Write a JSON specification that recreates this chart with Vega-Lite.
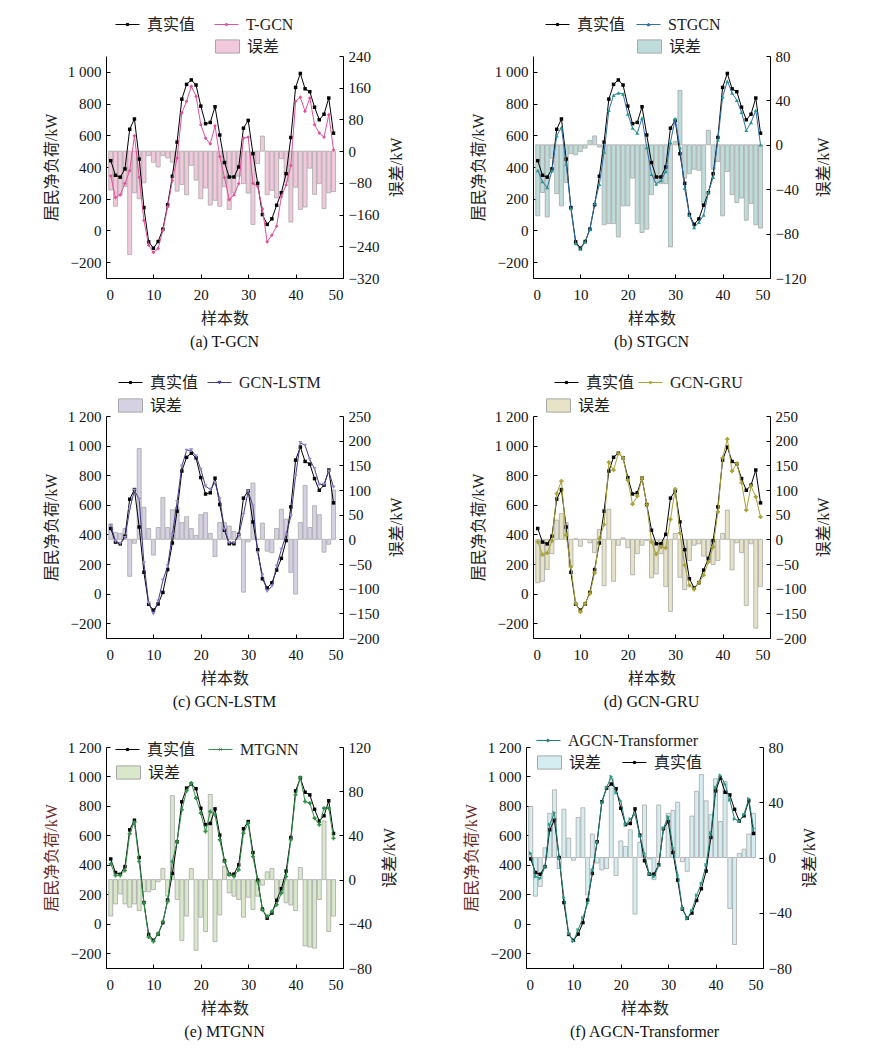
{
  "$schema": "https://vega.github.io/schema/vega-lite/v6.json",
  "background": "white",
  "padding": {"left": 43, "top": 12, "right": 5, "bottom": 5},
  "datasets": {
    "a": [
      {"x":1,"t":440,"p":344,"e":-98},{"x":2,"t":348,"p":207,"e":-139},{"x":3,"t":336,"p":224,"e":-110},{"x":4,"t":388,"p":297,"e":-89},{"x":5,"t":638,"p":376,"e":-261},{"x":6,"t":703,"p":597,"e":-105},{"x":7,"t":450,"p":335,"e":-120},{"x":8,"t":144,"p":63,"e":-80},{"x":9,"t":-72,"p":-93,"e":-11},{"x":10,"t":-112,"p":-139,"e":-28},
      {"x":11,"t":-70,"p":-114,"e":-40},{"x":12,"t":8,"p":0,"e":-11},{"x":13,"t":162,"p":148,"e":-17},{"x":14,"t":342,"p":314,"e":-28},{"x":15,"t":557,"p":456,"e":-101},{"x":16,"t":828,"p":741,"e":-84},{"x":17,"t":921,"p":814,"e":-110},{"x":18,"t":949,"p":909,"e":-36},{"x":19,"t":917,"p":846,"e":-73},{"x":20,"t":784,"p":667,"e":-120},
      {"x":21,"t":673,"p":582,"e":-93},{"x":22,"t":681,"p":546,"e":-136},{"x":23,"t":780,"p":660,"e":-124},{"x":24,"t":602,"p":466,"e":-139},{"x":25,"t":428,"p":333,"e":-90},{"x":26,"t":337,"p":194,"e":-147},{"x":27,"t":337,"p":224,"e":-105},{"x":28,"t":400,"p":295,"e":-63},{"x":29,"t":645,"p":582,"e":-82},{"x":30,"t":694,"p":589,"e":-106},
      {"x":31,"t":484,"p":297,"e":-185},{"x":32,"t":297,"p":278,"e":-31},{"x":33,"t":100,"p":135,"e":38},{"x":34,"t":38,"p":-72,"e":-110},{"x":35,"t":73,"p":-30,"e":-99},{"x":36,"t":159,"p":27,"e":-118},{"x":37,"t":238,"p":213,"e":-19},{"x":38,"t":358,"p":287,"e":-78},{"x":39,"t":586,"p":409,"e":-179},{"x":40,"t":902,"p":814,"e":-91},
      {"x":41,"t":990,"p":840,"e":-147},{"x":42,"t":893,"p":751,"e":-141},{"x":43,"t":875,"p":835,"e":-43},{"x":44,"t":777,"p":667,"e":-109},{"x":45,"t":698,"p":614,"e":-82},{"x":46,"t":733,"p":589,"e":-145},{"x":47,"t":835,"p":730,"e":-105},{"x":48,"t":613,"p":508,"e":-102}
    ],
    "b": [
      {"x":1,"t":440,"p":378,"e":-64},{"x":2,"t":348,"p":308,"e":-43},{"x":3,"t":336,"p":270,"e":-65},{"x":4,"t":388,"p":376,"e":-12},{"x":5,"t":638,"p":597,"e":-44},{"x":6,"t":703,"p":650,"e":-55},{"x":7,"t":450,"p":418,"e":-34},{"x":8,"t":144,"p":139,"e":-8},{"x":9,"t":-72,"p":-82,"e":-9},{"x":10,"t":-112,"p":-118,"e":-6},
      {"x":11,"t":-70,"p":-72,"e":-3},{"x":12,"t":8,"p":6,"e":4},{"x":13,"t":162,"p":169,"e":8},{"x":14,"t":342,"p":291,"e":-2},{"x":15,"t":557,"p":494,"e":-72},{"x":16,"t":828,"p":757,"e":-71},{"x":17,"t":921,"p":852,"e":-71},{"x":18,"t":949,"p":867,"e":-83},{"x":19,"t":917,"p":861,"e":-55},{"x":20,"t":784,"p":734,"e":-55},
      {"x":21,"t":673,"p":646,"e":-30},{"x":22,"t":681,"p":614,"e":-71},{"x":23,"t":780,"p":709,"e":-79},{"x":24,"t":602,"p":523,"e":-76},{"x":25,"t":428,"p":354,"e":-45},{"x":26,"t":337,"p":293,"e":-34},{"x":27,"t":337,"p":314,"e":-35},{"x":28,"t":400,"p":371,"e":-35},{"x":29,"t":645,"p":555,"e":-92},{"x":30,"t":694,"p":705,"e":3},
      {"x":31,"t":484,"p":523,"e":49},{"x":32,"t":297,"p":266,"e":-30},{"x":33,"t":100,"p":97,"e":-26},{"x":34,"t":38,"p":19,"e":-22},{"x":35,"t":73,"p":51,"e":-23},{"x":36,"t":159,"p":97,"e":-54},{"x":37,"t":238,"p":241,"e":13},{"x":38,"t":358,"p":335,"e":-22},{"x":39,"t":586,"p":572,"e":-15},{"x":40,"t":902,"p":842,"e":-64},
      {"x":41,"t":990,"p":941,"e":-24},{"x":42,"t":893,"p":867,"e":-45},{"x":43,"t":875,"p":821,"e":-52},{"x":44,"t":777,"p":745,"e":-48},{"x":45,"t":698,"p":631,"e":-68},{"x":46,"t":733,"p":681,"e":-53},{"x":47,"t":835,"p":757,"e":-72},{"x":48,"t":613,"p":540,"e":-75}
    ],
    "c": [
      {"x":1,"t":440,"p":460,"e":31},{"x":2,"t":348,"p":354,"e":14},{"x":3,"t":336,"p":338,"e":12},{"x":4,"t":388,"p":377,"e":22},{"x":5,"t":638,"p":568,"e":-75},{"x":6,"t":703,"p":699,"e":-8},{"x":7,"t":450,"p":636,"e":184},{"x":8,"t":144,"p":207,"e":65},{"x":9,"t":-72,"p":-63,"e":22},{"x":10,"t":-112,"p":-138,"e":-32},
      {"x":11,"t":-70,"p":-52,"e":24},{"x":12,"t":8,"p":88,"e":85},{"x":13,"t":162,"p":185,"e":24},{"x":14,"t":342,"p":399,"e":60},{"x":15,"t":557,"p":620,"e":65},{"x":16,"t":828,"p":861,"e":34},{"x":17,"t":921,"p":967,"e":46},{"x":18,"t":949,"p":970,"e":22},{"x":19,"t":917,"p":929,"e":8},{"x":20,"t":784,"p":839,"e":50},
      {"x":21,"t":673,"p":726,"e":54},{"x":22,"t":681,"p":703,"e":12},{"x":23,"t":780,"p":749,"e":-35},{"x":24,"t":602,"p":640,"e":34},{"x":25,"t":428,"p":433,"e":34},{"x":26,"t":337,"p":343,"e":27},{"x":27,"t":337,"p":343,"e":16},{"x":28,"t":400,"p":392,"e":5},{"x":29,"t":645,"p":534,"e":-107},{"x":30,"t":694,"p":692,"e":-5},
      {"x":31,"t":484,"p":591,"e":114},{"x":32,"t":297,"p":275,"e":0},{"x":33,"t":100,"p":124,"e":33},{"x":34,"t":38,"p":16,"e":-24},{"x":35,"t":73,"p":50,"e":-27},{"x":36,"t":159,"p":185,"e":22},{"x":37,"t":238,"p":298,"e":61},{"x":38,"t":358,"p":399,"e":41},{"x":39,"t":586,"p":523,"e":-67},{"x":40,"t":902,"p":794,"e":-111},
      {"x":41,"t":990,"p":1019,"e":34},{"x":42,"t":893,"p":1001,"e":109},{"x":43,"t":875,"p":906,"e":24},{"x":44,"t":777,"p":843,"e":68},{"x":45,"t":698,"p":737,"e":50},{"x":46,"t":733,"p":737,"e":-26},{"x":47,"t":835,"p":827,"e":-10},{"x":48,"t":613,"p":719,"e":100}
    ],
    "d": [
      {"x":1,"t":440,"p":349,"e":-88},{"x":2,"t":348,"p":264,"e":-85},{"x":3,"t":336,"p":275,"e":-61},{"x":4,"t":388,"p":356,"e":-29},{"x":5,"t":638,"p":676,"e":39},{"x":6,"t":703,"p":760,"e":52},{"x":7,"t":450,"p":395,"e":34},{"x":8,"t":144,"p":180,"e":-55},{"x":9,"t":-72,"p":-68,"e":1},{"x":10,"t":-112,"p":-124,"e":-14},
      {"x":11,"t":-70,"p":-68,"e":0},{"x":12,"t":8,"p":0,"e":-7},{"x":13,"t":162,"p":140,"e":-27},{"x":14,"t":342,"p":372,"e":20},{"x":15,"t":557,"p":467,"e":-94},{"x":16,"t":828,"p":886,"e":61},{"x":17,"t":921,"p":834,"e":-85},{"x":18,"t":949,"p":947,"e":-12},{"x":19,"t":917,"p":917,"e":3},{"x":20,"t":784,"p":767,"e":-17},
      {"x":21,"t":673,"p":604,"e":-72},{"x":22,"t":681,"p":658,"e":-29},{"x":23,"t":780,"p":778,"e":-12},{"x":24,"t":602,"p":602,"e":-2},{"x":25,"t":428,"p":349,"e":-78},{"x":26,"t":337,"p":266,"e":-70},{"x":27,"t":337,"p":316,"e":-29},{"x":28,"t":400,"p":309,"e":-96},{"x":29,"t":645,"p":501,"e":-146},{"x":30,"t":694,"p":706,"e":12},
      {"x":31,"t":484,"p":410,"e":-77},{"x":32,"t":297,"p":192,"e":-102},{"x":33,"t":100,"p":56,"e":-43},{"x":34,"t":38,"p":29,"e":-12},{"x":35,"t":73,"p":74,"e":-9},{"x":36,"t":159,"p":124,"e":-34},{"x":37,"t":238,"p":214,"e":-46},{"x":38,"t":358,"p":316,"e":-51},{"x":39,"t":586,"p":552,"e":-43},{"x":40,"t":902,"p":918,"e":12},
      {"x":41,"t":990,"p":1044,"e":59},{"x":42,"t":893,"p":827,"e":-62},{"x":43,"t":875,"p":879,"e":-7},{"x":44,"t":777,"p":749,"e":-27},{"x":45,"t":698,"p":564,"e":-134},{"x":46,"t":733,"p":726,"e":-9},{"x":47,"t":835,"p":654,"e":-180},{"x":48,"t":613,"p":519,"e":-96}
    ],
    "e": [
      {"x":1,"t":440,"p":407,"e":-33},{"x":2,"t":348,"p":328,"e":-22},{"x":3,"t":336,"p":328,"e":-13},{"x":4,"t":388,"p":362,"e":-22},{"x":5,"t":638,"p":611,"e":-25},{"x":6,"t":703,"p":690,"e":-22},{"x":7,"t":450,"p":423,"e":-28},{"x":8,"t":144,"p":140,"e":-11},{"x":9,"t":-72,"p":-90,"e":-11},{"x":10,"t":-112,"p":-120,"e":-9},
      {"x":11,"t":-70,"p":-68,"e":-2},{"x":12,"t":8,"p":16,"e":10},{"x":13,"t":162,"p":152,"e":-15},{"x":14,"t":342,"p":423,"e":76},{"x":15,"t":557,"p":559,"e":-18},{"x":16,"t":828,"p":774,"e":-55},{"x":17,"t":921,"p":903,"e":-33},{"x":18,"t":949,"p":955,"e":10},{"x":19,"t":917,"p":853,"e":-64},{"x":20,"t":784,"p":751,"e":-34},
      {"x":21,"t":673,"p":627,"e":-47},{"x":22,"t":681,"p":762,"e":77},{"x":23,"t":780,"p":740,"e":-56},{"x":24,"t":602,"p":570,"e":-32},{"x":25,"t":428,"p":423,"e":12},{"x":26,"t":337,"p":333,"e":-12},{"x":27,"t":337,"p":321,"e":-15},{"x":28,"t":400,"p":367,"e":-18},{"x":29,"t":645,"p":615,"e":-34},{"x":30,"t":694,"p":683,"e":-16},
      {"x":31,"t":484,"p":457,"e":-27},{"x":32,"t":297,"p":287,"e":-15},{"x":33,"t":100,"p":95,"e":-5},{"x":34,"t":38,"p":50,"e":7},{"x":35,"t":73,"p":84,"e":10},{"x":36,"t":159,"p":129,"e":-17},{"x":37,"t":238,"p":208,"e":-12},{"x":38,"t":358,"p":321,"e":-21},{"x":39,"t":586,"p":570,"e":-23},{"x":40,"t":902,"p":876,"e":-28},
      {"x":41,"t":990,"p":993,"e":11},{"x":42,"t":893,"p":830,"e":-60},{"x":43,"t":875,"p":819,"e":-61},{"x":44,"t":777,"p":717,"e":-62},{"x":45,"t":698,"p":672,"e":-18},{"x":46,"t":733,"p":785,"e":53},{"x":47,"t":835,"p":785,"e":-47},{"x":48,"t":613,"p":581,"e":-33}
    ],
    "f": [
      {"x":1,"t":440,"p":479,"e":37},{"x":2,"t":348,"p":320,"e":-28},{"x":3,"t":336,"p":308,"e":-21},{"x":4,"t":388,"p":388,"e":7},{"x":5,"t":638,"p":674,"e":32},{"x":6,"t":703,"p":753,"e":49},{"x":7,"t":450,"p":445,"e":-8},{"x":8,"t":144,"p":178,"e":35},{"x":9,"t":-72,"p":-68,"e":14},{"x":10,"t":-112,"p":-119,"e":-2},
      {"x":11,"t":-70,"p":-41,"e":29},{"x":12,"t":8,"p":41,"e":36},{"x":13,"t":162,"p":137,"e":-27},{"x":14,"t":342,"p":365,"e":17},{"x":15,"t":557,"p":553,"e":-4},{"x":16,"t":828,"p":822,"e":-9},{"x":17,"t":921,"p":925,"e":-8},{"x":18,"t":949,"p":1000,"e":57},{"x":19,"t":917,"p":890,"e":-13},{"x":20,"t":784,"p":833,"e":12},
      {"x":21,"t":673,"p":674,"e":8},{"x":22,"t":681,"p":712,"e":20},{"x":23,"t":780,"p":742,"e":-41},{"x":24,"t":602,"p":598,"e":11},{"x":25,"t":428,"p":475,"e":38},{"x":26,"t":337,"p":338,"e":-1},{"x":27,"t":337,"p":320,"e":-16},{"x":28,"t":400,"p":393,"e":38},{"x":29,"t":645,"p":651,"e":0},{"x":30,"t":694,"p":726,"e":32},
      {"x":31,"t":484,"p":514,"e":34},{"x":32,"t":297,"p":331,"e":40},{"x":33,"t":100,"p":103,"e":-3},{"x":34,"t":38,"p":34,"e":-10},{"x":35,"t":73,"p":91,"e":30},{"x":36,"t":159,"p":194,"e":48},{"x":37,"t":238,"p":274,"e":60},{"x":38,"t":358,"p":400,"e":41},{"x":39,"t":586,"p":616,"e":31},{"x":40,"t":902,"p":925,"e":57},
      {"x":41,"t":990,"p":1009,"e":26},{"x":42,"t":893,"p":947,"e":55},{"x":43,"t":875,"p":840,"e":-37},{"x":44,"t":777,"p":712,"e":-63},{"x":45,"t":698,"p":696,"e":3},{"x":46,"t":733,"p":742,"e":6},{"x":47,"t":835,"p":849,"e":17},{"x":48,"t":613,"p":646,"e":32}
    ]
  },
  "spacing": 18,
  "resolve": {"scale": {"fill": "independent", "stroke": "independent"}, "legend": {"fill": "independent", "stroke": "independent"}},
  "vconcat": [
    {
      "spacing": 20,
      "resolve": {"scale": {"fill": "independent", "stroke": "independent"}, "legend": {"fill": "independent", "stroke": "independent"}},
      "vconcat": [
        {
          "spacing": 65,
          "resolve": {"scale": {"fill": "independent", "stroke": "independent"}, "legend": {"fill": "independent", "stroke": "independent"}},
          "hconcat": [
            {
              "width": 237, "height": 222,
              "data": {"name": "a"},
              "title": {"text": "(a) T-GCN"},
              "encoding": {"x": {"field": "x", "type": "quantitative", "scale": {"domain": [0, 50], "padding": 0}, "axis": {"values": [0, 10, 20, 30, 40, 50], "title": "样本数"}}},
              "layer": [
                {
                  "mark": {"type": "bar", "orient": "vertical", "width": 4, "stroke": "#a8a8a8", "strokeWidth": 0.8},
                  "encoding": {
                    "y": {"field": "e", "type": "quantitative", "scale": {"domain": [-320, 240]}, "axis": {"orient": "right", "values": [-320, -240, -160, -80, 0, 80, 160, 240], "title": "误差/kW"}},
                    "fill": {"datum": "误差", "scale": {"range": ["#f2c9dc"]}, "legend": {"title": null, "legendX": 109, "legendY": -22, "symbolType": "M-1,-0.55H1V0.55H-1Z", "symbolStrokeColor": "#a8a8a8"}}
                  }
                },
                {
                  "layer": [
                    {
                      "mark": {"type": "line", "strokeWidth": 1, "point": {"shape": "square", "size": 12, "filled": true, "fill": "black", "strokeWidth": 0}},
                      "encoding": {
                        "y": {"field": "t", "type": "quantitative", "scale": {"domain": [-300, 1100]}, "axis": {"orient": "left", "values": [-200, 0, 200, 400, 600, 800, 1000], "labelExpr": "replace(format(datum.value, ','), ',', ' ')", "title": "居民净负荷/kW"}},
                        "stroke": {"datum": "真实值", "scale": {"range": ["black"]}, "legend": {"title": null, "legendX": 9, "legendY": -44, "symbolType": "M-1,0H1M-0.09,-0.09H0.09V0.09H-0.09Z", "symbolFillColor": "black"}}
                      }
                    },
                    {
                      "mark": {"type": "line", "strokeWidth": 1, "point": {"shape": "diamond", "size": 14, "filled": true, "fill": "#e0509b", "strokeWidth": 0}},
                      "encoding": {
                        "y": {"field": "p", "type": "quantitative", "scale": {"domain": [-300, 1100]}, "axis": {"orient": "left", "values": [-200, 0, 200, 400, 600, 800, 1000], "labelExpr": "replace(format(datum.value, ','), ',', ' ')", "title": "居民净负荷/kW"}},
                        "stroke": {"datum": "T-GCN", "scale": {"range": ["#e0509b"]}, "legend": {"title": null, "legendX": 108, "legendY": -44, "symbolType": "M-1,0H1M0,-0.12L0.12,0L0,0.12L-0.12,0Z", "symbolFillColor": "#e0509b"}}
                      }
                    }
                  ],
                  "resolve": {"scale": {"stroke": "independent"}}
                }
              ],
              "resolve": {"scale": {"y": "independent"}}
            },
            {
              "width": 237, "height": 222,
              "data": {"name": "b"},
              "title": {"text": "(b) STGCN"},
              "encoding": {"x": {"field": "x", "type": "quantitative", "scale": {"domain": [0, 50], "padding": 0}, "axis": {"values": [0, 10, 20, 30, 40, 50], "title": "样本数"}}},
              "layer": [
                {
                  "mark": {"type": "bar", "orient": "vertical", "width": 4, "stroke": "#a8a8a8", "strokeWidth": 0.8},
                  "encoding": {
                    "y": {"field": "e", "type": "quantitative", "scale": {"domain": [-120, 80]}, "axis": {"orient": "right", "values": [-120, -80, -40, 0, 40, 80], "title": "误差/kW"}},
                    "fill": {"datum": "误差", "scale": {"range": ["#bedcda"]}, "legend": {"title": null, "legendX": 104, "legendY": -22, "symbolType": "M-1,-0.55H1V0.55H-1Z", "symbolStrokeColor": "#a8a8a8"}}
                  }
                },
                {
                  "layer": [
                    {
                      "mark": {"type": "line", "strokeWidth": 1, "point": {"shape": "square", "size": 12, "filled": true, "fill": "black", "strokeWidth": 0}},
                      "encoding": {
                        "y": {"field": "t", "type": "quantitative", "scale": {"domain": [-300, 1100]}, "axis": {"orient": "left", "values": [-200, 0, 200, 400, 600, 800, 1000], "labelExpr": "replace(format(datum.value, ','), ',', ' ')", "title": "居民净负荷/kW"}},
                        "stroke": {"datum": "真实值", "scale": {"range": ["black"]}, "legend": {"title": null, "legendX": 12, "legendY": -44, "symbolType": "M-1,0H1M-0.09,-0.09H0.09V0.09H-0.09Z", "symbolFillColor": "black"}}
                      }
                    },
                    {
                      "mark": {"type": "line", "strokeWidth": 1, "point": {"shape": "triangle-up", "size": 16, "filled": true, "fill": "#22998e", "strokeWidth": 0}},
                      "encoding": {
                        "y": {"field": "p", "type": "quantitative", "scale": {"domain": [-300, 1100]}, "axis": {"orient": "left", "values": [-200, 0, 200, 400, 600, 800, 1000], "labelExpr": "replace(format(datum.value, ','), ',', ' ')", "title": "居民净负荷/kW"}},
                        "stroke": {"datum": "STGCN", "scale": {"range": ["#2f6fad"]}, "legend": {"title": null, "legendX": 103, "legendY": -44, "symbolType": "M-1,0H1M0,-0.12L0.12,0.1H-0.12Z", "symbolFillColor": "#22998e"}}
                      }
                    }
                  ],
                  "resolve": {"scale": {"stroke": "independent"}}
                }
              ],
              "resolve": {"scale": {"y": "independent"}}
            }
          ]
        },
        {
          "spacing": 65,
          "resolve": {"scale": {"fill": "independent", "stroke": "independent"}, "legend": {"fill": "independent", "stroke": "independent"}},
          "hconcat": [
            {
              "width": 237, "height": 222,
              "data": {"name": "c"},
              "title": {"text": "(c) GCN-LSTM"},
              "encoding": {"x": {"field": "x", "type": "quantitative", "scale": {"domain": [0, 50], "padding": 0}, "axis": {"values": [0, 10, 20, 30, 40, 50], "title": "样本数"}}},
              "layer": [
                {
                  "mark": {"type": "bar", "orient": "vertical", "width": 4, "stroke": "#a8a8a8", "strokeWidth": 0.8},
                  "encoding": {
                    "y": {"field": "e", "type": "quantitative", "scale": {"domain": [-200, 250]}, "axis": {"orient": "right", "values": [-200, -150, -100, -50, 0, 50, 100, 150, 200, 250], "title": "误差/kW"}},
                    "fill": {"datum": "误差", "scale": {"range": ["#d6d0e3"]}, "legend": {"title": null, "legendX": 12, "legendY": -23, "symbolType": "M-1,-0.55H1V0.55H-1Z", "symbolStrokeColor": "#a8a8a8"}}
                  }
                },
                {
                  "layer": [
                    {
                      "mark": {"type": "line", "strokeWidth": 1, "point": {"shape": "square", "size": 12, "filled": true, "fill": "black", "strokeWidth": 0}},
                      "encoding": {
                        "y": {"field": "t", "type": "quantitative", "scale": {"domain": [-300, 1200]}, "axis": {"orient": "left", "values": [-200, 0, 200, 400, 600, 800, 1000, 1200], "labelExpr": "replace(format(datum.value, ','), ',', ' ')", "title": "居民净负荷/kW"}},
                        "stroke": {"datum": "真实值", "scale": {"range": ["black"]}, "legend": {"title": null, "legendX": 12, "legendY": -46, "symbolType": "M-1,0H1M-0.09,-0.09H0.09V0.09H-0.09Z", "symbolFillColor": "black"}}
                      }
                    },
                    {
                      "mark": {"type": "line", "strokeWidth": 1, "point": {"shape": "triangle-down", "size": 16, "filled": true, "fill": "#9c86c8", "strokeWidth": 0}},
                      "encoding": {
                        "y": {"field": "p", "type": "quantitative", "scale": {"domain": [-300, 1200]}, "axis": {"orient": "left", "values": [-200, 0, 200, 400, 600, 800, 1000, 1200], "labelExpr": "replace(format(datum.value, ','), ',', ' ')", "title": "居民净负荷/kW"}},
                        "stroke": {"datum": "GCN-LSTM", "scale": {"range": ["#3f3a8c"]}, "legend": {"title": null, "legendX": 101, "legendY": -46, "symbolType": "M-1,0H1M0,0.12L0.12,-0.1H-0.12Z", "symbolFillColor": "#9c86c8"}}
                      }
                    }
                  ],
                  "resolve": {"scale": {"stroke": "independent"}}
                }
              ],
              "resolve": {"scale": {"y": "independent"}}
            },
            {
              "width": 237, "height": 222,
              "data": {"name": "d"},
              "title": {"text": "(d) GCN-GRU"},
              "encoding": {"x": {"field": "x", "type": "quantitative", "scale": {"domain": [0, 50], "padding": 0}, "axis": {"values": [0, 10, 20, 30, 40, 50], "title": "样本数"}}},
              "layer": [
                {
                  "mark": {"type": "bar", "orient": "vertical", "width": 4, "stroke": "#a8a8a8", "strokeWidth": 0.8},
                  "encoding": {
                    "y": {"field": "e", "type": "quantitative", "scale": {"domain": [-200, 250]}, "axis": {"orient": "right", "values": [-200, -150, -100, -50, 0, 50, 100, 150, 200, 250], "title": "误差/kW"}},
                    "fill": {"datum": "误差", "scale": {"range": ["#e6e3c6"]}, "legend": {"title": null, "legendX": 13, "legendY": -23, "symbolType": "M-1,-0.55H1V0.55H-1Z", "symbolStrokeColor": "#a8a8a8"}}
                  }
                },
                {
                  "layer": [
                    {
                      "mark": {"type": "line", "strokeWidth": 1, "point": {"shape": "square", "size": 12, "filled": true, "fill": "black", "strokeWidth": 0}},
                      "encoding": {
                        "y": {"field": "t", "type": "quantitative", "scale": {"domain": [-300, 1200]}, "axis": {"orient": "left", "values": [-200, 0, 200, 400, 600, 800, 1000, 1200], "labelExpr": "replace(format(datum.value, ','), ',', ' ')", "title": "居民净负荷/kW"}},
                        "stroke": {"datum": "真实值", "scale": {"range": ["black"]}, "legend": {"title": null, "legendX": 21, "legendY": -46, "symbolType": "M-1,0H1M-0.09,-0.09H0.09V0.09H-0.09Z", "symbolFillColor": "black"}}
                      }
                    },
                    {
                      "mark": {"type": "line", "strokeWidth": 1, "point": {"shape": "cross", "size": 18, "filled": true, "fill": "#a8a235", "strokeWidth": 0}},
                      "encoding": {
                        "y": {"field": "p", "type": "quantitative", "scale": {"domain": [-300, 1200]}, "axis": {"orient": "left", "values": [-200, 0, 200, 400, 600, 800, 1000, 1200], "labelExpr": "replace(format(datum.value, ','), ',', ' ')", "title": "居民净负荷/kW"}},
                        "stroke": {"datum": "GCN-GRU", "scale": {"range": ["#a8a235"]}, "legend": {"title": null, "legendX": 105, "legendY": -46, "symbolType": "M-1,0H1M0,-0.12L0.12,0L0,0.12L-0.12,0Z", "symbolFillColor": "#a8a235"}}
                      }
                    }
                  ],
                  "resolve": {"scale": {"stroke": "independent"}}
                }
              ],
              "resolve": {"scale": {"y": "independent"}}
            }
          ]
        }
      ]
    },
    {
      "spacing": 65,
      "resolve": {"scale": {"fill": "independent", "stroke": "independent"}, "legend": {"fill": "independent", "stroke": "independent"}},
      "hconcat": [
        {
          "width": 237, "height": 221,
          "data": {"name": "e"},
          "title": {"text": "(e) MTGNN"},
          "encoding": {"x": {"field": "x", "type": "quantitative", "scale": {"domain": [0, 50], "padding": 0}, "axis": {"values": [0, 10, 20, 30, 40, 50], "title": "样本数"}}},
          "layer": [
            {
              "mark": {"type": "bar", "orient": "vertical", "width": 4, "stroke": "#a8a8a8", "strokeWidth": 0.8},
              "encoding": {
                "y": {"field": "e", "type": "quantitative", "scale": {"domain": [-80, 120]}, "axis": {"orient": "right", "values": [-80, -40, 0, 40, 80, 120], "title": "误差/kW"}},
                "fill": {"datum": "误差", "scale": {"range": ["#d9e8cb"]}, "legend": {"title": null, "legendX": 10, "legendY": 13, "symbolType": "M-1,-0.55H1V0.55H-1Z", "symbolStrokeColor": "#a8a8a8"}}
              }
            },
            {
              "layer": [
                {
                  "mark": {"type": "line", "strokeWidth": 1, "point": {"shape": "square", "size": 12, "filled": true, "fill": "black", "strokeWidth": 0}},
                  "encoding": {
                    "y": {"field": "t", "type": "quantitative", "scale": {"domain": [-300, 1200]}, "axis": {"orient": "left", "values": [-200, 0, 200, 400, 600, 800, 1000, 1200], "labelExpr": "replace(format(datum.value, ','), ',', ' ')", "title": "居民净负荷/kW", "titleColor": "#6b2b25"}},
                    "stroke": {"datum": "真实值", "scale": {"range": ["black"]}, "legend": {"title": null, "legendX": 9, "legendY": -10, "symbolType": "M-1,0H1M-0.09,-0.09H0.09V0.09H-0.09Z", "symbolFillColor": "black"}}
                  }
                },
                {
                  "mark": {"type": "line", "strokeWidth": 1, "point": {"shape": "cross", "size": 16, "filled": true, "fill": "#2f8f45", "strokeWidth": 0}},
                  "encoding": {
                    "y": {"field": "p", "type": "quantitative", "scale": {"domain": [-300, 1200]}, "axis": {"orient": "left", "values": [-200, 0, 200, 400, 600, 800, 1000, 1200], "labelExpr": "replace(format(datum.value, ','), ',', ' ')", "title": "居民净负荷/kW", "titleColor": "#6b2b25"}},
                    "stroke": {"datum": "MTGNN", "scale": {"range": ["#2f8f45"]}, "legend": {"title": null, "legendX": 102, "legendY": -10, "symbolType": "M-1,0H1M-0.1,-0.1L0.1,0.1M0.1,-0.1L-0.1,0.1", "symbolFillColor": "#2f8f45"}}
                  }
                }
              ],
              "resolve": {"scale": {"stroke": "independent"}}
            }
          ],
          "resolve": {"scale": {"y": "independent"}}
        },
        {
          "width": 237, "height": 221,
          "data": {"name": "f"},
          "title": {"text": "(f) AGCN-Transformer"},
          "encoding": {"x": {"field": "x", "type": "quantitative", "scale": {"domain": [0, 50], "padding": 0}, "axis": {"values": [0, 10, 20, 30, 40, 50], "title": "样本数"}}},
          "layer": [
            {
              "mark": {"type": "bar", "orient": "vertical", "width": 4, "stroke": "#a8a8a8", "strokeWidth": 0.8},
              "encoding": {
                "y": {"field": "e", "type": "quantitative", "scale": {"domain": [-80, 80]}, "axis": {"orient": "right", "values": [-80, -40, 0, 40, 80], "title": "误差/kW"}},
                "fill": {"datum": "误差", "scale": {"range": ["#d5edf1"]}, "legend": {"title": null, "legendX": 11, "legendY": 3, "symbolType": "M-1,-0.55H1V0.55H-1Z", "symbolStrokeColor": "#a8a8a8"}}
              }
            },
            {
              "layer": [
                {
                  "mark": {"type": "line", "strokeWidth": 1, "point": {"shape": "square", "size": 12, "filled": true, "fill": "black", "strokeWidth": 0}},
                  "encoding": {
                    "y": {"field": "t", "type": "quantitative", "scale": {"domain": [-300, 1200]}, "axis": {"orient": "left", "values": [-200, 0, 200, 400, 600, 800, 1000, 1200], "labelExpr": "replace(format(datum.value, ','), ',', ' ')", "title": "居民净负荷/kW", "titleColor": "#6b2b25"}},
                    "stroke": {"datum": "真实值", "scale": {"range": ["black"]}, "legend": {"title": null, "legendX": 96, "legendY": 3, "symbolType": "M-1,0H1M-0.09,-0.09H0.09V0.09H-0.09Z", "symbolFillColor": "black"}}
                  }
                },
                {
                  "mark": {"type": "line", "strokeWidth": 1, "point": {"shape": "triangle-right", "size": 16, "filled": true, "fill": "#2a9a8a", "strokeWidth": 0}},
                  "encoding": {
                    "y": {"field": "p", "type": "quantitative", "scale": {"domain": [-300, 1200]}, "axis": {"orient": "left", "values": [-200, 0, 200, 400, 600, 800, 1000, 1200], "labelExpr": "replace(format(datum.value, ','), ',', ' ')", "title": "居民净负荷/kW", "titleColor": "#6b2b25"}},
                    "stroke": {"datum": "AGCN-Transformer", "scale": {"range": ["#1f7f73"]}, "legend": {"title": null, "legendX": 10, "legendY": -19, "symbolType": "M-1,0H1M0.12,0L-0.1,-0.12V0.12Z", "symbolFillColor": "#2a9a8a"}}
                  }
                }
              ],
              "resolve": {"scale": {"stroke": "independent"}}
            }
          ],
          "resolve": {"scale": {"y": "independent"}}
        }
      ]
    }
  ],
  "config": {
    "view": {"stroke": null},
    "font": "Liberation Serif",
    "axis": {
      "labelFont": "Liberation Serif",
      "labelFontSize": 15,
      "labelColor": "#111111",
      "titleFont": "Liberation Serif, Noto Sans CJK SC",
      "titleFontSize": 16,
      "titleFontWeight": "normal",
      "titleColor": "#222222",
      "domainColor": "black",
      "tickColor": "black",
      "tickSize": -4,
      "labelPadding": 9,
      "titlePadding": 8,
      "grid": false
    },
    "axisX": {
      "labelPadding": 13
    },
    "axisRight": {
      "titleAngle": -90,
      "titleBaseline": "top",
      "titlePadding": 10
    },
    "legend": {
      "orient": "none",
      "labelFont": "Liberation Serif, Noto Sans CJK SC",
      "labelFontSize": 16,
      "labelColor": "#222222",
      "symbolSize": 576,
      "symbolStrokeWidth": 1,
      "labelOffset": 7
    },
    "title": {
      "font": "Liberation Serif",
      "fontSize": 16,
      "fontWeight": "normal",
      "color": "#111111",
      "orient": "bottom",
      "offset": 8
    }
  }
}
